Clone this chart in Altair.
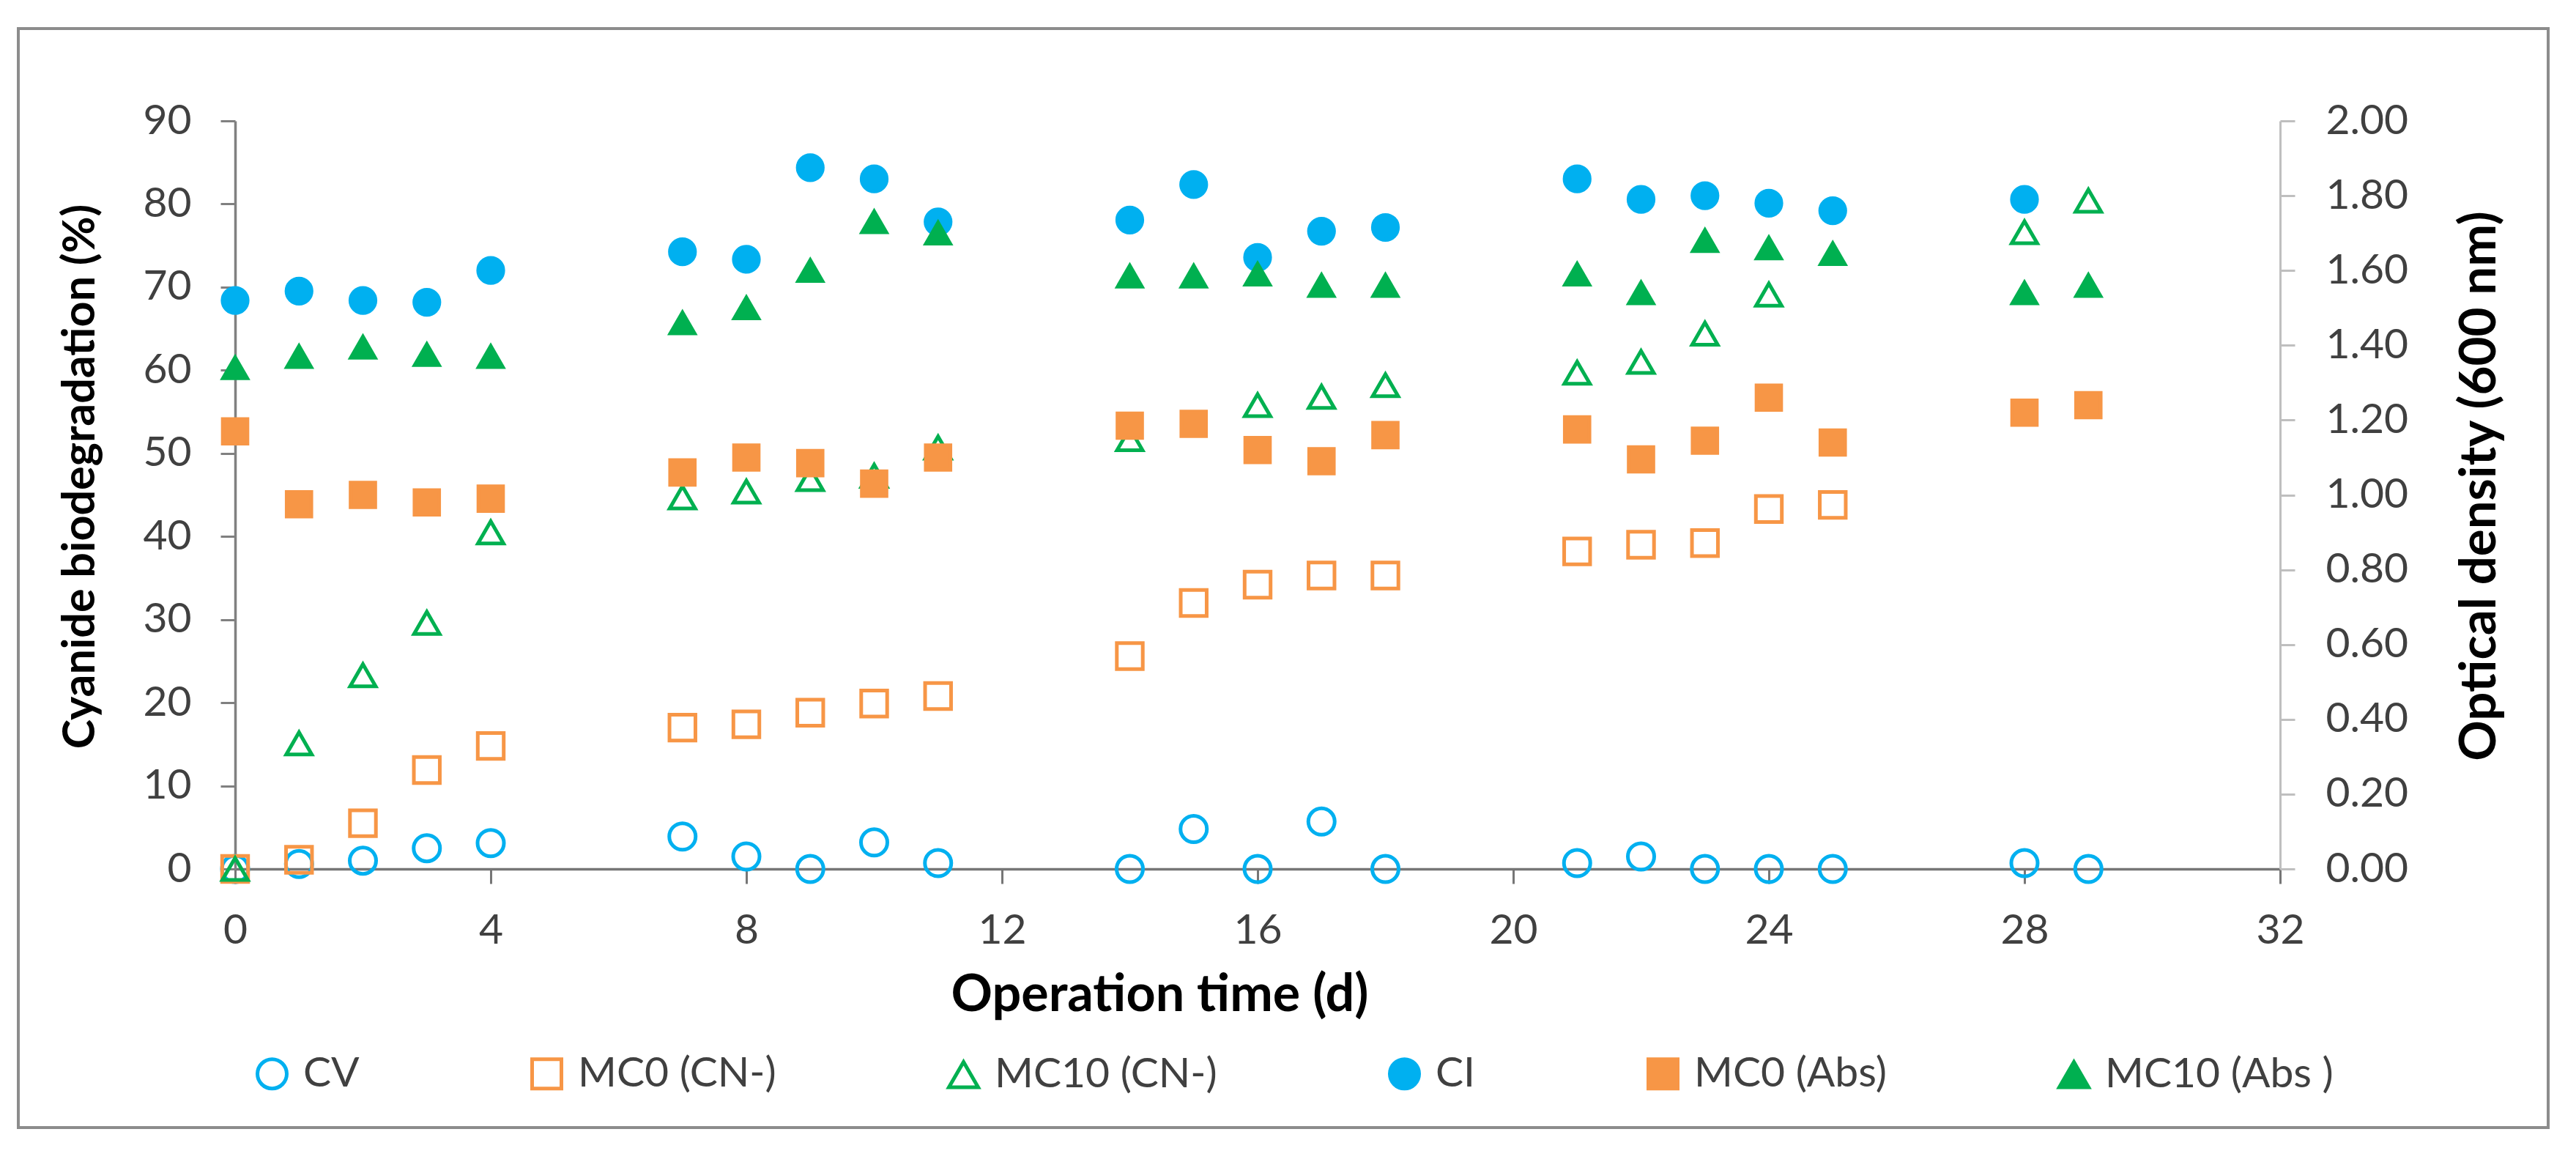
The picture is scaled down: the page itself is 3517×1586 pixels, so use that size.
import altair as alt
import pandas as pd

# ---------------- data ----------------
days = [0, 1, 2, 3, 4, 7, 8, 9, 10, 11, 14, 15, 16, 17, 18, 21, 22, 23, 24, 25, 28, 29]

# Cyanide biodegradation (%), left axis
cv = [0, 0.6, 1.0, 2.5, 3.1, 3.9, 1.5, 0, 3.2, 0.7, 0, 4.8, 0, 5.7, 0, 0.7, 1.5, 0, 0, 0, 0.7, 0]
mc0_cn = [0, 1.1, 5.5, 11.9, 14.8, 17.0, 17.4, 18.8, 19.9, 20.8, 25.6, 32.0, 34.2, 35.3, 35.3,
          38.2, 39.0, 39.2, 43.3, 43.8, None, None]
mc10_cn = [0, 15.1, 23.3, 29.6, 40.5, 44.7, 45.4, 46.9, 47.3, 50.7, 51.7, None, 55.8, 56.8, 58.2,
           59.7, 61.0, 64.4, 69.1, None, 76.6, 80.4]

# Optical density (600 nm), right axis
ci = [1.52, 1.545, 1.52, 1.515, 1.60, 1.65, 1.63, 1.875, 1.845, 1.73, 1.735, 1.83, 1.635, 1.705,
      1.715, 1.845, 1.79, 1.80, 1.78, 1.76, 1.79, None]
mc0_abs = [1.17, 0.975, 1.00, 0.98, 0.99, 1.06, 1.10, 1.085, 1.03, 1.10, 1.185, 1.19, 1.12, 1.09,
           1.16, 1.175, 1.095, 1.145, 1.26, 1.14, 1.22, 1.24]
mc10_abs = [1.34, 1.37, 1.395, 1.375, 1.37, 1.46, 1.50, 1.60, 1.73, 1.70, 1.585, 1.585, 1.59, 1.56,
            1.56, 1.59, 1.54, 1.68, 1.66, 1.645, 1.54, 1.56]

SERIES = ["CV", "MC0 (CN-)", "MC10 (CN-)", "CI", "MC0 (Abs)", "MC10 (Abs )"]
STYLES = ["open_circle", "open_square", "open_triangle", "solid_circle", "solid_square", "solid_triangle"]
x_ticks = [0, 4, 8, 12, 16, 20, 24, 28, 32]
left_ticks = [0, 10, 20, 30, 40, 50, 60, 70, 80, 90]
right_ticks = [0, 0.2, 0.4, 0.6, 0.8, 1.0, 1.2, 1.4, 1.6, 1.8, 2.0]
LEFT_MAX = 90
RIGHT_MAX = 2.0

BLUE = "#00B0F0"
ORANGE = "#F79646"
GREEN = "#00B050"

rows = []
for (name, vals, side), style in zip(
    [("CV", cv, "L"), ("MC0 (CN-)", mc0_cn, "L"), ("MC10 (CN-)", mc10_cn, "L"),
     ("CI", ci, "R"), ("MC0 (Abs)", mc0_abs, "R"), ("MC10 (Abs )", mc10_abs, "R")], STYLES):
    for d, v in zip(days, vals):
        if v is not None:
            rows.append({"day": d, "val": v, "side": side, "series": name, "style": style})
df = pd.DataFrame(rows)
right_df = df[df["side"] == "R"]

FONT = "Lato"
LABEL_SIZE = 57

x_enc = alt.X(
    "day:Q",
    scale=alt.Scale(domain=[0, 32], nice=False, zero=False),
    axis=alt.Axis(
        values=x_ticks, title="Operation time (d)", grid=False,
        domainColor="#767676", domainWidth=3.5, tickColor="#767676", tickWidth=3,
        tickSize=20, labelPadding=36, labelFlush=False, labelOverlap=False,
        titleX=1262, titleY=172, titleBaseline="middle", titleFontSize=70,
    ),
)

main = alt.Chart(df).transform_calculate(
    y_left=f"datum.side == 'L' ? datum.val : datum.val * {LEFT_MAX} / {RIGHT_MAX}"
).mark_point(opacity=1).encode(
    x=x_enc,
    y=alt.Y(
        "y_left:Q",
        scale=alt.Scale(domain=[0, LEFT_MAX], nice=False),
        axis=alt.Axis(
            values=left_ticks, title="Cyanide biodegradation (%)", grid=False, orient="left",
            domainColor="#808080", domainWidth=3.5, tickColor="#808080", tickWidth=3,
            tickSize=20, labelPadding=40, labelOverlap=False,
            titleAngle=-90, titleX=-211, titleY=485, titleBaseline="middle", titleFontSize=61,
        ),
    ),
    shape=alt.Shape(
        "series:N",
        scale=alt.Scale(domain=SERIES, range=["circle", "square", "triangle-up", "circle", "square", "triangle-up"]),
        legend=alt.Legend(title=None),
    ),
    fill=alt.Fill(
        "series:N",
        scale=alt.Scale(domain=SERIES, range=["transparent", "transparent", "transparent", BLUE, ORANGE, GREEN]),
        legend=alt.Legend(title=None),
    ),
    stroke=alt.Stroke(
        "series:N",
        scale=alt.Scale(domain=SERIES, range=[BLUE, ORANGE, GREEN, BLUE, ORANGE, GREEN]),
        legend=alt.Legend(title=None),
    ),
    size=alt.Size(
        "style:N",
        scale=alt.Scale(domain=STYLES, range=[1296, 1089, 900, 1764, 1936, 1936]),
        legend=None,
    ),
    strokeWidth=alt.StrokeWidth(
        "style:N",
        scale=alt.Scale(domain=STYLES, range=[5, 5, 6, 0, 0, 0]),
        legend=None,
    ),
)

right_axis = alt.Chart(right_df).mark_point(opacity=0).encode(
    x=x_enc,
    y=alt.Y(
        "val:Q",
        scale=alt.Scale(domain=[0, RIGHT_MAX], nice=False),
        axis=alt.Axis(
            values=right_ticks, format=".2f", title="Optical density (600 nm)", grid=False,
            orient="right",
            domainColor="#BFBFBF", domainWidth=3, tickColor="#BFBFBF", tickWidth=3,
            tickSize=20, labelPadding=42, labelOverlap=False,
            titleAngle=-90, titleX=272, titleY=498, titleBaseline="middle", titleFontSize=69,
        ),
    ),
)

frame = alt.Chart(pd.DataFrame({"a": [0]})).mark_rect(
    fill="transparent", stroke="#8C8C8C", strokeWidth=4
).encode(
    x=alt.value(-296), x2=alt.value(3158), y=alt.value(-126), y2=alt.value(1374)
)

chart = (
    alt.layer(frame, right_axis, main)
    .resolve_scale(y="independent")
    .properties(width=2792, height=1021, padding={"left": 15, "top": 29, "right": 5, "bottom": 5})
    .configure_view(strokeWidth=0)
    .configure_axis(
        labelFont=FONT, labelFontSize=LABEL_SIZE, labelColor="#404040",
        titleFont=FONT, titleFontWeight="bold", titleColor="#000000",
    )
    .configure_legend(
        orient="none", legendX=22, legendY=1272, direction="horizontal", columns=6,
        columnPadding=225, symbolSize=1600, symbolStrokeWidth=5, labelOffset=14,
        labelFont=FONT, labelFontSize=LABEL_SIZE, labelColor="#404040", padding=0,
        labelLimit=0,
    )
)

chart.save("out.html", embed_options={"renderer": "svg", "actions": False})
